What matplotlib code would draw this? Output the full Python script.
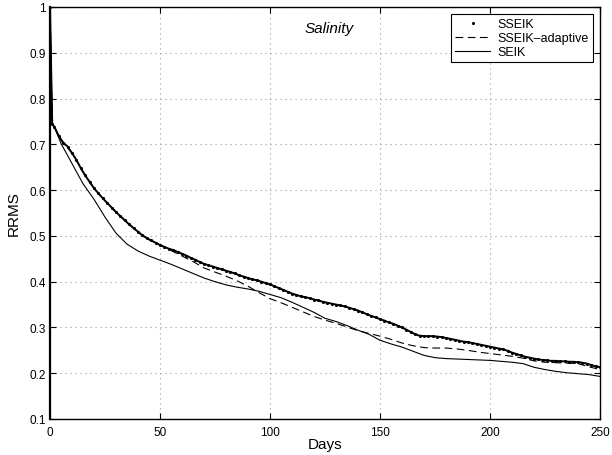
import matplotlib
matplotlib.use("Agg")
import matplotlib.pyplot as plt
from matplotlib.ticker import FixedLocator
from matplotlib.lines import Line2D

plt.rcParams['font.family'] = ['Liberation Sans', 'DejaVu Sans']

# SSEIK: sampled densely (day 0, 1, then every 2 days)
days_sseik = [0, 1] + list(range(2, 251, 2))
rrms_sseik = [
    1.000, 0.745,
    0.738, 0.718, 0.704, 0.695, 0.681, 0.666, 0.648, 0.632, 0.618, 0.604,
    0.593, 0.582, 0.572, 0.562, 0.552, 0.543, 0.534, 0.525, 0.517, 0.509,
    0.501, 0.495, 0.490, 0.485, 0.480, 0.476, 0.472, 0.469, 0.465, 0.461,
    0.457, 0.452, 0.448, 0.443, 0.439, 0.436, 0.433, 0.430, 0.427, 0.424,
    0.421, 0.418, 0.414, 0.411, 0.408, 0.405, 0.403, 0.400, 0.397, 0.394,
    0.390, 0.386, 0.382, 0.378, 0.374, 0.371, 0.368, 0.366, 0.364, 0.361,
    0.359, 0.356, 0.354, 0.352, 0.350, 0.348, 0.346, 0.343, 0.340, 0.337,
    0.333, 0.329, 0.325, 0.322, 0.318, 0.315, 0.311, 0.308, 0.304, 0.300,
    0.295, 0.290, 0.285, 0.282, 0.281, 0.281, 0.281, 0.280, 0.279, 0.277,
    0.275, 0.273, 0.271, 0.269, 0.268, 0.266, 0.264, 0.262, 0.260, 0.258,
    0.256, 0.254, 0.252, 0.249, 0.245, 0.242, 0.239, 0.236, 0.234, 0.232,
    0.230, 0.229, 0.228, 0.227, 0.227, 0.226, 0.226, 0.225, 0.225, 0.224,
    0.223, 0.221, 0.218, 0.215, 0.213,
]

# SSEIK-adaptive and SEIK: sampled every 5 days
days_coarse = [0, 1, 2] + list(range(5, 251, 5))
rrms_adaptive = [
    1.000, 0.745, 0.738,
    0.709, 0.681, 0.640, 0.604, 0.577, 0.552, 0.530, 0.509, 0.492, 0.480,
    0.468, 0.456, 0.444, 0.430, 0.421, 0.412, 0.402, 0.390, 0.376, 0.363,
    0.354, 0.344, 0.334, 0.324, 0.316, 0.309, 0.301, 0.293, 0.287, 0.281,
    0.274, 0.266, 0.260, 0.256, 0.255, 0.255, 0.253, 0.250, 0.246, 0.243,
    0.240, 0.237, 0.233, 0.227, 0.224, 0.223, 0.222, 0.221, 0.214, 0.208,
]
rrms_seik = [
    1.000, 0.745, 0.738,
    0.702, 0.658, 0.614, 0.580, 0.541, 0.506, 0.482, 0.467, 0.456, 0.447,
    0.438, 0.428, 0.418, 0.408, 0.400, 0.393, 0.388, 0.384, 0.379, 0.372,
    0.365, 0.355, 0.344, 0.333, 0.320, 0.313, 0.304, 0.294, 0.285, 0.272,
    0.264, 0.257, 0.248, 0.239, 0.234, 0.232, 0.231, 0.230, 0.229, 0.228,
    0.226, 0.224, 0.221, 0.213, 0.208, 0.204, 0.201, 0.199, 0.197, 0.193,
]

x_ticks = [0, 50, 100, 150, 200, 250]
y_ticks = [0.1, 0.2, 0.3, 0.4, 0.5, 0.6, 0.7, 0.8, 0.9, 1.0]
y_tick_labels = ["0.1", "0.2", "0.3", "0.4", "0.5", "0.6", "0.7", "0.8", "0.9", "1"]

fig = plt.figure(figsize=(6.12, 4.56), dpi=100)
ax = fig.add_axes([50 / 612, 1 - 420 / 456, 550 / 612, 412 / 456])

ax.plot(days_sseik, rrms_sseik, color='black', lw=1.4, marker='.', ms=4.5,
        markeredgewidth=0)
ax.plot(days_coarse, rrms_adaptive, color='black', lw=0.8, ls=(0, (7, 4)))
ax.plot(days_coarse, rrms_seik, color='black', lw=0.8)

ax.set_xlim(0, 250)
ax.set_ylim(0.1, 1.0)
ax.xaxis.set_major_locator(FixedLocator(x_ticks))
ax.yaxis.set_major_locator(FixedLocator(y_ticks))
ax.set_yticklabels(y_tick_labels)
ax.tick_params(direction='in', top=True, right=True, length=4, width=0.8,
               labelsize=8.5, pad=3)
ax.tick_params(axis='x', pad=5)
ax.grid(True, color='#999999', ls=(0, (1, 3.5)), lw=0.8)
for s in ax.spines.values():
    s.set_linewidth(1.0)
ax.spines['left'].set_linewidth(1.6)

ax.set_xlabel("Days", fontsize=11, labelpad=-1)
ax.set_ylabel("RRMS", fontsize=11, labelpad=6)
ax.text(127, 0.955, "Salinity", style='italic', fontsize=11,
        ha='center', va='center')

handles = [
    Line2D([], [], color='black', ls='none', marker='.', ms=4.5, markeredgewidth=0),
    Line2D([], [], color='black', lw=0.8, ls=(0, (7, 4))),
    Line2D([], [], color='black', lw=0.8),
]
leg = ax.legend(handles, ["SSEIK", "SSEIK\u2013adaptive", "SEIK"],
                loc='upper right', fontsize=9, frameon=True, fancybox=False,
                edgecolor='black', framealpha=1, handlelength=2.8,
                borderpad=0.35, labelspacing=0.15, handletextpad=0.6,
                borderaxespad=0.55)
leg.get_frame().set_linewidth(0.8)

fig.savefig("out.png", dpi=100)
